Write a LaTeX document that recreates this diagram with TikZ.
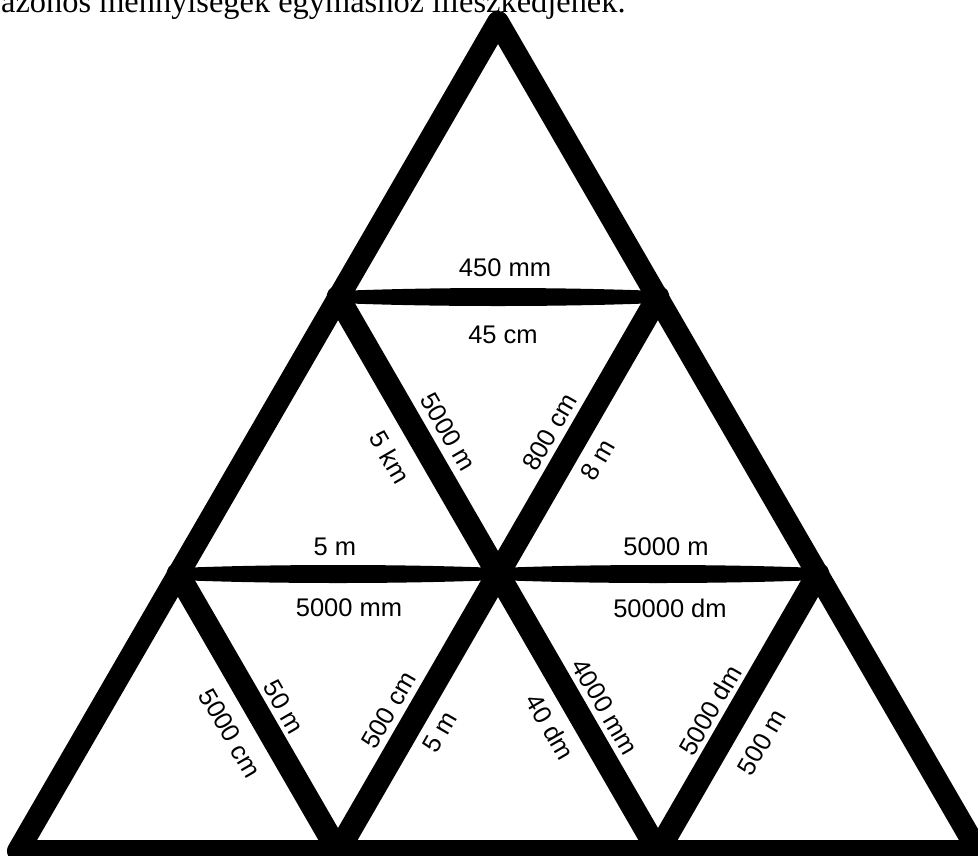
\documentclass[tikz,border=0pt]{standalone}
\usepackage{fontspec}
\setmainfont{Liberation Sans}
\newfontfamily\headfont{Liberation Serif}
\usetikzlibrary{calc}
\newcommand\hlens[2]{\fill ($(#1)+(0,-6)$) .. controls ($(#1)!0.3!(#2)+(0,-10)$) and ($(#1)!0.7!(#2)+(0,-10)$) .. ($(#2)+(0,-6)$) -- ($(#2)+(0,6)$) .. controls ($(#1)!0.7!(#2)+(0,10)$) and ($(#1)!0.3!(#2)+(0,10)$) .. ($(#1)+(0,6)$) -- cycle;}
\begin{document}
\begin{tikzpicture}[x=1pt,y=-1pt,
  outeredge/.style={line width=22pt, line join=round, line cap=round},
  inneredge/.style={line width=23pt, line cap=round},
  lbl/.style={font=\fontsize{25.5}{30}\selectfont, inner sep=0pt}]
\useasboundingbox (0,0) rectangle (978,855);
\clip (0,0) rectangle (978,855);
\fill[white] (0,0) rectangle (978,855);
\node[anchor=base west, inner sep=0pt, font=\headfont\fontsize{32.4}{38}\selectfont] (head) at (1,12) {azonos mennyiségek egymáshoz illeszkedjenek.};
% vertices
\coordinate (a) at (498,22);
\coordinate (p1) at (338,297);
\coordinate (q1) at (658,297);
\coordinate (p2) at (178,574);
\coordinate (c) at (498,574);
\coordinate (q2) at (818,574);
\coordinate (b0) at (18,851);
\coordinate (b1) at (338,851);
\coordinate (b2) at (658,851);
\coordinate (b3) at (978,851);
% edges
\draw[outeredge] (a) -- (b0) -- (b3) -- cycle;
\draw[inneredge] (p1) -- (c) -- (q1);
\draw[inneredge] (p2) -- (b1) -- (c) -- (b2) -- (q2);
\hlens{p1}{q1}
\hlens{p2}{c}
\hlens{c}{q2}
\fill (c) circle (14);
% labels
\node[lbl] (l1) at (505,268) {450 mm};
\node[lbl] (l2) at (503,335) {45 cm};
\node[lbl, rotate=-60] (l3) at (390,457) {5 km};
\node[lbl, rotate=-60] (l4) at (448,432) {5000 m};
\node[lbl, rotate=60] (l5) at (550,432) {800 cm};
\node[lbl, rotate=60] (l6) at (598,460) {8 m};
\node[lbl] (l7) at (335,547) {5 m};
\node[lbl] (l8) at (349,608) {5000 mm};
\node[lbl] (l9) at (666,547) {5000 m};
\node[lbl] (l10) at (670,608) {50000 dm};
\node[lbl, rotate=-60] (l11) at (230,733) {5000 cm};
\node[lbl, rotate=-60] (l12) at (284,707) {50 m};
\node[lbl, rotate=60] (l13) at (389,710) {500 cm};
\node[lbl, rotate=60] (l14) at (440,732) {5 m};
\node[lbl, rotate=-60] (l15) at (550,727) {40 dm};
\node[lbl, rotate=-60] (l16) at (605,707) {4000 mm};
\node[lbl, rotate=60] (l17) at (710,710) {5000 dm};
\node[lbl, rotate=60] (l18) at (762,742) {500 m};
\end{tikzpicture}
\end{document}
